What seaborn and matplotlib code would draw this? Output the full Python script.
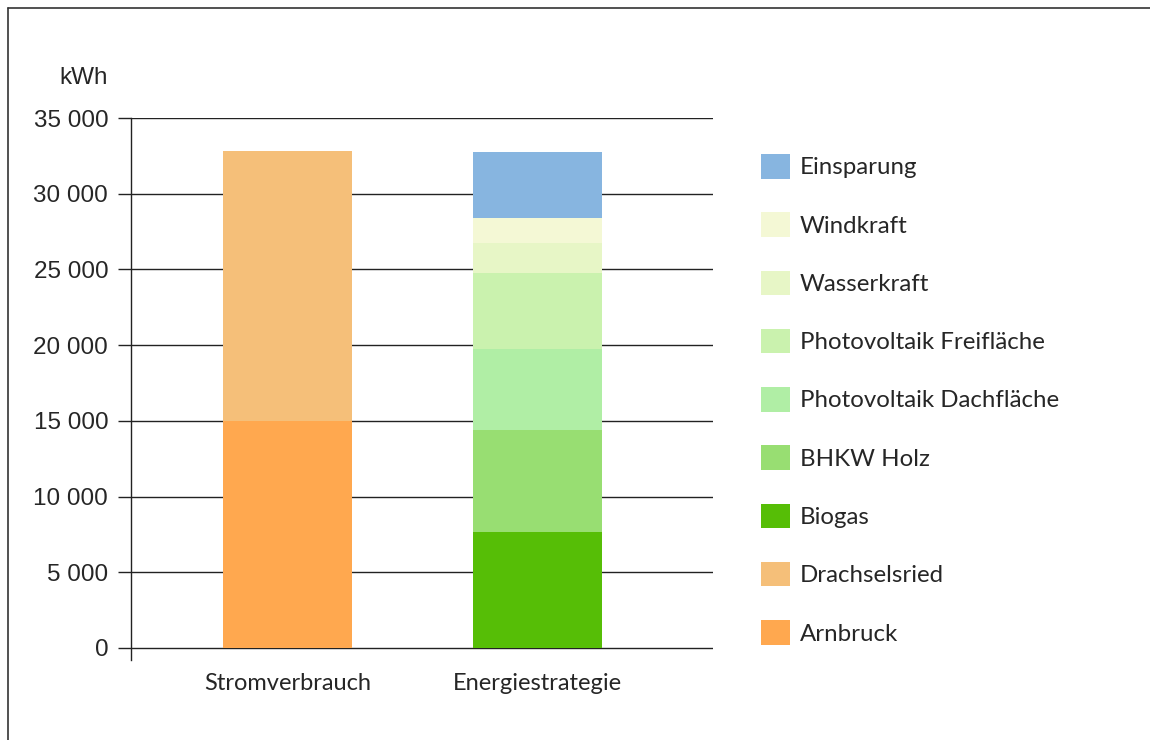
import numpy as np
import pandas as pd
import seaborn as sns
import matplotlib.pyplot as plt
from matplotlib.patches import Patch
from matplotlib.lines import Line2D

categories = ["Stromverbrauch", "Energiestrategie"]

# segments from bottom to top
verbrauch_names = ["Arnbruck", "Drachselsried"]
verbrauch_values = [15000, 17800]

strategie_names = ["Biogas", "BHKW Holz", "Photovoltaik Dachfläche",
                   "Photovoltaik Freifläche", "Wasserkraft", "Windkraft", "Einsparung"]
strategie_values = [7650, 6750, 5350, 5020, 1980, 1650, 4360]

colors = {
    "Arnbruck": "#FFA84F",
    "Drachselsried": "#F5BF79",
    "Biogas": "#56BE06",
    "BHKW Holz": "#98DE72",
    "Photovoltaik Dachfläche": "#B0EEA5",
    "Photovoltaik Freifläche": "#CAF2AE",
    "Wasserkraft": "#E7F6C6",
    "Windkraft": "#F4F8D5",
    "Einsparung": "#87B5E0",
}

legend_order = ["Einsparung", "Windkraft", "Wasserkraft", "Photovoltaik Freifläche",
                "Photovoltaik Dachfläche", "BHKW Holz", "Biogas", "Drachselsried", "Arnbruck"]

sns.set_style("white")
plt.rcParams['font.family'] = ['Lato', 'DejaVu Sans']

fig = plt.figure(figsize=(11.5, 7.4), dpi=100)
ax = fig.add_axes([0.1139, 0.1081, 0.5061, 0.7324])

# stacked bars: draw cumulative tops, tallest first
rows = []
for cat, names, vals in [(categories[0], verbrauch_names, verbrauch_values),
                         (categories[1], strategie_names, strategie_values)]:
    tops = np.cumsum(vals)
    for n, t in zip(names, tops):
        rows.append({"cat": cat, "seg": n, "top": t})
df = pd.DataFrame(rows).sort_values("top", ascending=False)

for _, r in df.iterrows():
    sns.barplot(x=[r["cat"]], y=[r["top"]], order=categories, color=colors[r["seg"]],
                width=0.516, saturation=1, linewidth=0, ax=ax, zorder=3)

ax.set_xlim(-0.626, 1.702)
ax.set_ylim(-800, 35000)
yt = np.arange(0, 35001, 5000)
ax.set_yticks(yt)
ax.set_yticklabels([f"{v:,}".replace(",", " ") for v in yt],
                   fontfamily="Liberation Sans", fontsize=17.5)
ax.tick_params(axis="y", direction="out", length=9.4, width=1, color="#222222", pad=7, left=True)
ax.tick_params(axis="x", length=0, pad=9, labelsize=17)
ax.set_xlabel("")
ax.set_ylabel("")
for y in yt:
    ax.axhline(y, color="#222222", lw=1, zorder=2)

for s in ["top", "right", "bottom"]:
    ax.spines[s].set_visible(False)
ax.spines["left"].set_color("#222222")
ax.spines["left"].set_linewidth(1)

fig.text(108 / 1150, 1 - 78 / 740, "kWh", ha="right", va="center",
         fontfamily="Liberation Sans", fontsize=17.5)

handles = [Patch(facecolor=colors[n], edgecolor="none") for n in legend_order]
fig.legend(handles, legend_order, loc="upper left", bbox_to_anchor=(761 / 1150, 1 - 154 / 740),
           frameon=False, fontsize=17.3, handlelength=1.2, handleheight=1.2,
           handletextpad=0.42, labelspacing=1.40, borderaxespad=0, borderpad=0)

# outer frame
fig.add_artist(Line2D([8 / 1150, 8 / 1150], [0, 1 - 8 / 740], color="#333333", lw=1.2,
                      transform=fig.transFigure))
fig.add_artist(Line2D([8 / 1150, 1], [1 - 8 / 740, 1 - 8 / 740], color="#333333", lw=1.2,
                      transform=fig.transFigure))

fig.savefig("out.png", dpi=100)
